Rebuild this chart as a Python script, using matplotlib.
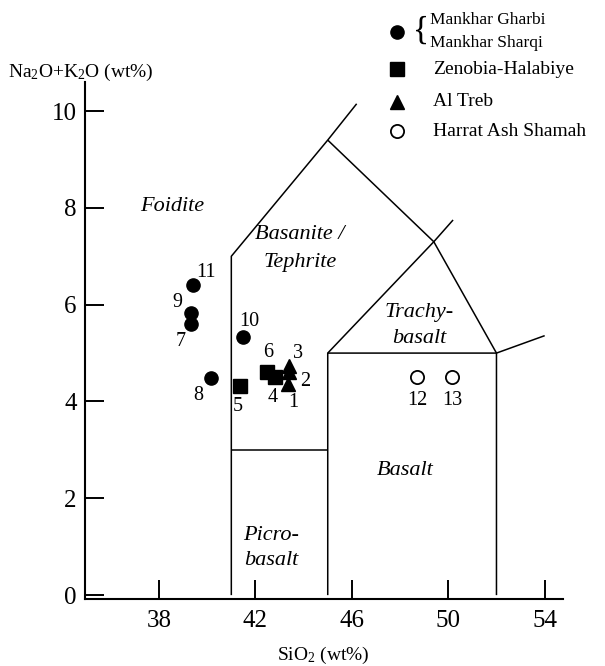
import matplotlib
matplotlib.use('Agg')
import matplotlib.pyplot as plt
from matplotlib.lines import Line2D

plt.rcParams['font.family'] = ['Liberation Serif', 'DejaVu Serif']
plt.rcParams['mathtext.fontset'] = 'custom'
plt.rcParams['mathtext.rm'] = 'Liberation Serif'
plt.rcParams['mathtext.it'] = 'Liberation Serif:italic'

# ---- data ----
mg_ids = ['7', '8', '9', '10', '11']
mg_sio2 = [39.32, 40.17, 39.32, 41.49, 39.39]
mg_alk = [5.61, 4.48, 5.82, 5.34, 6.40]

zh_ids = ['4', '5', '6']
zh_sio2 = [42.80, 41.35, 42.48]
zh_alk = [4.51, 4.32, 4.61]

at_ids = ['1', '2', '3']
at_sio2 = [43.35, 43.39, 43.39]
at_alk = [4.37, 4.61, 4.73]

hs_ids = ['12', '13']
hs_sio2 = [48.71, 50.16]
hs_alk = [4.50, 4.50]

x_ticks = [38, 42, 46, 50, 54]
y_ticks = [0, 2, 4, 6, 8, 10]

# TAS field boundaries (SiO2, Na2O+K2O)
tas_lines = [
    [(41, 0), (41, 7), (45, 9.4), (46.2, 10.15)],
    [(45, 0), (45, 5), (49.4, 7.3), (50.2, 7.75)],
    [(45, 9.4), (49.4, 7.3), (52, 5), (52, 0)],
    [(41, 3), (45, 3)],
    [(45, 5), (52, 5), (54, 5.36)],
]

field_names = ['Foidite', 'Basanite /', 'Tephrite', 'Trachy-', 'basalt', 'Basalt', 'Picro-', 'basalt']
field_x = [38.55, 43.85, 43.85, 48.8, 48.8, 48.2, 42.65, 42.65]
field_y = [8.02, 7.44, 6.88, 5.83, 5.31, 2.58, 1.24, 0.72]

# label offsets (points)
mg_off = [(-7.2, -13), (-9.4, -12.2), (-10, 8), (4.3, 10.8), (10, 9.4)]
zh_off = [(-1.4, -15), (-1.4, -15), (0.7, 13.7)]
at_off = [(3.6, -13.7), (11.5, -7.2), (6.5, 9.4)]
hs_off = [(0, -16.5), (0, -16.5)]

fig = plt.figure(figsize=(6.05, 6.66), dpi=100)
ax = fig.add_axes([85 / 605, 67 / 666, (563 - 85) / 605, (599 - 82) / 666])
ax.set_xlim(34.93, 54.76)
ax.set_ylim(-0.08, 10.6)

for seg in tas_lines:
    xs = [p[0] for p in seg]
    ys = [p[1] for p in seg]
    ax.plot(xs, ys, color='black', lw=1.1, solid_capstyle='butt', clip_on=False)

ms = 9.5
ax.plot(mg_sio2, mg_alk, 'o', color='black', ms=ms, ls='none')
ax.plot(zh_sio2, zh_alk, 's', color='black', ms=ms, ls='none')
ax.plot(at_sio2, at_alk, '^', color='black', ms=ms, ls='none')
ax.plot(hs_sio2, hs_alk, 'o', mfc='white', mec='black', mew=1.3, ms=ms, ls='none')

for ids, xs, ys, offs in [(mg_ids, mg_sio2, mg_alk, mg_off), (zh_ids, zh_sio2, zh_alk, zh_off),
                          (at_ids, at_sio2, at_alk, at_off), (hs_ids, hs_sio2, hs_alk, hs_off)]:
    for i, x, y, o in zip(ids, xs, ys, offs):
        ax.annotate(i, (x, y), xytext=o, textcoords='offset points', ha='center', va='center',
                    fontsize=14.5)

for name, x, y in zip(field_names, field_x, field_y):
    ax.text(x, y, name, ha='center', va='center', fontsize=16, style='italic')

for s in ['top', 'right']:
    ax.spines[s].set_visible(False)
for s in ['left', 'bottom']:
    ax.spines[s].set_linewidth(1.5)

ax.set_xticks(x_ticks)
ax.set_yticks(y_ticks)
ax.tick_params(direction='in', length=13.5, width=1.4, labelsize=18)
ax.tick_params(axis='y', pad=6)
ax.tick_params(axis='x', pad=8)

fig.text(8 / 605, 1 - 72 / 666, r'Na$_2$O+K$_2$O (wt%)', ha='left', va='center', fontsize=14)
fig.text(323 / 605, 1 - 655 / 666, r'SiO$_2$ (wt%)', ha='center', va='center', fontsize=14)

# legend (manual)
lx = 397.3 / 605
fig.add_artist(Line2D([lx], [1 - 32.3 / 666], marker='o', color='black', ms=ms, ls='none'))
fig.add_artist(Line2D([lx], [1 - 69 / 666], marker='s', color='black', ms=ms, ls='none'))
fig.add_artist(Line2D([lx], [1 - 102 / 666], marker='^', color='black', ms=ms, ls='none'))
fig.add_artist(Line2D([lx], [1 - 131 / 666], marker='o', mfc='white', mec='black', mew=1.3, ms=ms, ls='none'))
fig.text(421 / 605, 1 - 31 / 666, '{', ha='center', va='center', fontsize=24)
fig.text(430 / 605, 1 - 20 / 666, 'Mankhar Gharbi', ha='left', va='center', fontsize=12.5)
fig.text(430 / 605, 1 - 43 / 666, 'Mankhar Sharqi', ha='left', va='center', fontsize=12.5)
fig.text(433 / 605, 1 - 69 / 666, 'Zenobia-Halabiye', ha='left', va='center', fontsize=14)
fig.text(433 / 605, 1 - 101 / 666, 'Al Treb', ha='left', va='center', fontsize=14)
fig.text(433 / 605, 1 - 131 / 666, 'Harrat Ash Shamah', ha='left', va='center', fontsize=14)

fig.savefig('out.png', dpi=100)
